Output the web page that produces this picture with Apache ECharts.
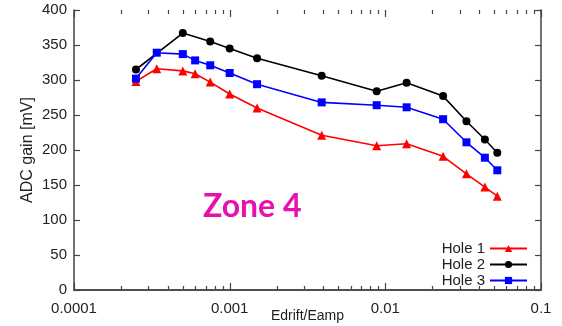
<!DOCTYPE html>
<html>
<head>
<meta charset="utf-8">
<script src="https://cdn.jsdelivr.net/npm/echarts@6/dist/echarts.min.js"></script>
<style>
  html, body { margin: 0; padding: 0; background: #fff; }
  #chart { width: 562px; height: 326px; }
</style>
</head>
<body>
<div id="chart"></div>
<script>
// Edrift/Eamp field ratios
const ratioHole13 = [0.00025, 0.00034, 0.0005, 0.0006, 0.00075, 0.001, 0.0015, 0.0039, 0.0088, 0.0137, 0.0235, 0.0332, 0.0436, 0.0524];
const ratioHole2  = [0.00025, 0.0005, 0.00075, 0.001, 0.0015, 0.0039, 0.0088, 0.0137, 0.0235, 0.0332, 0.0436, 0.0524];

// ADC gain [mV]
const gainHole1 = [298, 316, 313, 309, 297, 280, 260, 221, 206, 209, 191, 166, 147, 134];
const gainHole2 = [315, 367, 355, 345, 331, 306, 284, 296, 277, 241, 215, 196];
const gainHole3 = [302, 339, 337, 328, 321, 310, 294, 268, 264, 261, 244, 211, 189, 171];

// Axis ticks
const xTickValues = [0.0001, 0.001, 0.01, 0.1];
const xTickLabels = ['0.0001', '0.001', '0.01', '0.1'];
const minorMultipliers = [2, 3, 4, 5, 6, 7, 8, 9];

const pairs = (xs, ys) => xs.map((x, i) => [x, ys[i]]);
const labelOf = v => {
  const i = xTickValues.findIndex(t => Math.abs(Math.log10(t) - Math.log10(v)) < 1e-6);
  return i >= 0 ? xTickLabels[i] : '';
};

const axisColor = '#444';
const textColor = '#222';
const fontFamily = '"Liberation Sans", Arial, sans-serif';

const chart = echarts.init(document.getElementById('chart'), null, { renderer: 'canvas' });

chart.setOption({
  animation: false,
  backgroundColor: '#fff',
  grid: { left: 74, right: 21, top: 10, bottom: 36, containLabel: false, outerBoundsMode: 'none' },
  xAxis: [{
    type: 'log', logBase: 10, min: 0.0001, max: 0.1,
    name: 'Edrift/Eamp', nameLocation: 'middle', nameGap: 19, nameMoveOverlap: false,
    nameTextStyle: { color: textColor, fontSize: 14, fontFamily },
    axisLine: { show: true, lineStyle: { color: axisColor, width: 1.5 } },
    axisTick: { show: false },
    axisLabel: { color: textColor, fontSize: 15, fontFamily, margin: 11, formatter: labelOf },
    splitLine: { show: false }
  }, {
    type: 'log', logBase: 10, min: 0.0001, max: 0.1, position: 'top',
    axisLine: { show: true, lineStyle: { color: axisColor, width: 1.5 } },
    axisTick: { show: false },
    axisLabel: { show: false },
    splitLine: { show: false }
  }],
  yAxis: [{
    type: 'value', min: 0, max: 400, interval: 50,
    name: 'ADC gain [mV]', nameLocation: 'middle', nameGap: 38, nameRotate: 90, nameMoveOverlap: false,
    nameTextStyle: { color: textColor, fontSize: 16, fontFamily },
    axisLine: { show: true, lineStyle: { color: axisColor, width: 1.5 } },
    axisTick: { show: true, inside: true, length: 6, lineStyle: { color: axisColor, width: 1.2 } },
    axisLabel: { color: textColor, fontSize: 15, fontFamily, margin: 7 },
    splitLine: { show: false }
  }, {
    type: 'value', min: 0, max: 400, interval: 50, position: 'right',
    axisLine: { show: true, lineStyle: { color: axisColor, width: 1.5 } },
    axisTick: { show: true, inside: true, length: 6, lineStyle: { color: axisColor, width: 1.2 } },
    axisLabel: { show: false },
    splitLine: { show: false }
  }],
  legend: {
    orient: 'vertical', right: 29, bottom: 33, align: 'right',
    itemWidth: 37, itemHeight: 9, itemGap: 1,
    textStyle: { color: textColor, fontSize: 15, fontFamily, lineHeight: 14 },
    data: ['Hole 1', 'Hole 2', 'Hole 3']
  },
  series: [{
    name: 'Hole 1', type: 'line', data: pairs(ratioHole13, gainHole1),
    color: '#ff0000', symbol: 'triangle', symbolSize: 9,
    lineStyle: { width: 1.6 }, itemStyle: { color: '#ff0000' }
  }, {
    name: 'Hole 2', type: 'line', data: pairs(ratioHole2, gainHole2),
    color: '#000000', symbol: 'circle', symbolSize: 8,
    lineStyle: { width: 1.6 }, itemStyle: { color: '#000000' }
  }, {
    name: 'Hole 3', type: 'line', data: pairs(ratioHole13, gainHole3),
    color: '#0000ff', symbol: 'rect', symbolSize: 8,
    lineStyle: { width: 1.6 }, itemStyle: { color: '#0000ff' }
  }]
});

// Log ticks on the bottom and top frame edges, placed through the x axis scale
const yBottom = chart.convertToPixel({ yAxisIndex: 0 }, 0);
const yTop = chart.convertToPixel({ yAxisIndex: 0 }, 400);
const tickMarks = [];
const addTick = (v, len) => {
  const x = Math.round(chart.convertToPixel({ xAxisIndex: 0 }, v)) + 0.5;
  tickMarks.push({ type: 'line', shape: { x1: x, y1: yBottom, x2: x, y2: yBottom - len },
    style: { stroke: axisColor, lineWidth: 1.2 } });
  tickMarks.push({ type: 'line', shape: { x1: x, y1: yTop, x2: x, y2: yTop + len },
    style: { stroke: axisColor, lineWidth: 1.2 } });
};
xTickValues.forEach(v => addTick(v, 7));
for (let d = 0; d < xTickValues.length - 1; d++) {
  for (const m of minorMultipliers) addTick(xTickValues[d] * m, 4);
}

chart.setOption({
  graphic: [
    ...tickMarks,
    {
      type: 'text', left: 203, top: 191,
      style: { text: 'Zone 4', fill: '#e612b0', font: 'bold 32px Lato, "Open Sans", sans-serif' }
    }
  ]
});
</script>
</body>
</html>
